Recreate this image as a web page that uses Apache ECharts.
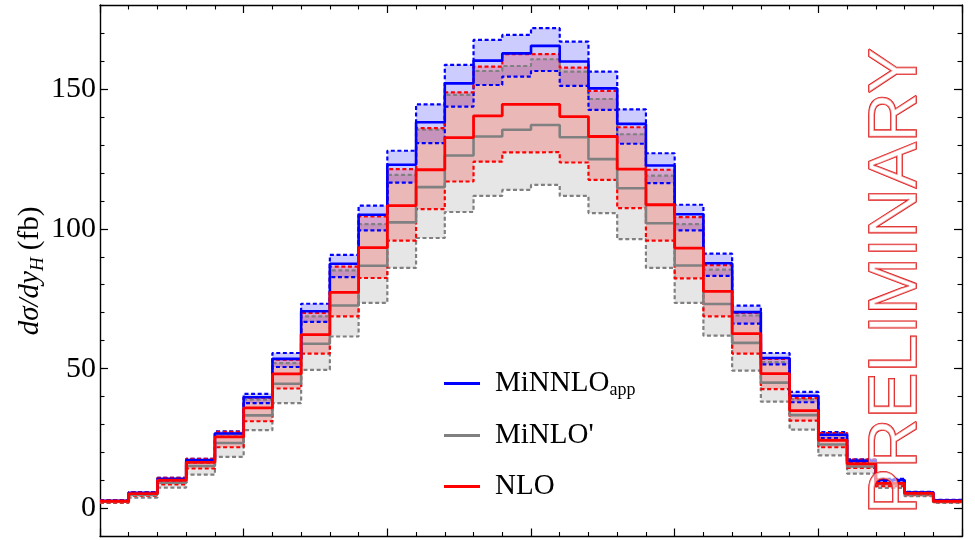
<!DOCTYPE html>
<html>
<head>
<meta charset="utf-8">
<script src="https://cdn.jsdelivr.net/npm/echarts@6/dist/echarts.min.js"></script>
<style>
  html, body { margin: 0; padding: 0; background: #fff; }
  #chart { width: 975px; height: 540px; }
</style>
</head>
<body>
<div id="chart"></div>
<script>
// Rapidity bins of the Higgs boson, y_H in [-3, 3], width 0.2
const binEdges = [-3.0, -2.8, -2.6, -2.4, -2.2, -2.0, -1.8, -1.6, -1.4, -1.2, -1.0,
                  -0.8, -0.6, -0.4, -0.2, 0.0, 0.2, 0.4, 0.6, 0.8, 1.0,
                  1.2, 1.4, 1.6, 1.8, 2.0, 2.2, 2.4, 2.6, 2.8, 3.0];

// MiNNLO_app: central value and scale-variation envelope (fb)
const minnloCentral = [2.8, 5.6, 10.6, 17.3, 26.8, 39.8, 53.5, 70.5, 87.5, 105.0,
                       122.9, 138.1, 152.0, 160.1, 162.7, 165.4, 159.8, 150.2, 137.5, 122.6,
                       105.2, 87.7, 70.2, 53.8, 40.3, 26.4, 17.1, 10.2, 5.7, 2.9];
const minnloUp = [3.0, 5.9, 11.0, 17.8, 27.6, 41.0, 55.6, 73.2, 90.7, 108.3,
                  127.9, 144.5, 158.6, 167.5, 169.3, 171.7, 166.9, 156.2, 142.7, 127.0,
                  108.6, 91.1, 72.5, 55.6, 41.7, 27.3, 17.6, 10.6, 6.0, 3.1];
const minnloDown = [2.6, 5.2, 10.0, 16.5, 25.6, 37.7, 50.6, 66.7, 82.7, 99.4,
                    116.5, 130.6, 143.7, 151.4, 154.4, 156.4, 151.1, 142.5, 130.4, 116.3,
                    99.4, 83.2, 66.1, 51.5, 38.0, 25.2, 16.4, 9.7, 5.4, 2.7];

// MiNLO'
const minloCentral = [2.4, 4.9, 9.2, 15.2, 23.4, 33.3, 44.6, 58.9, 72.6, 86.8,
                      102.3, 114.9, 126.2, 133.0, 135.4, 137.1, 132.7, 124.9, 114.5, 102.0,
                      86.9, 73.1, 59.2, 45.0, 33.4, 22.9, 15.0, 8.8, 5.0, 2.4];
const minloUp = [2.8, 5.7, 10.7, 17.4, 26.8, 38.9, 52.0, 68.7, 85.1, 101.7,
                 119.3, 135.4, 147.9, 156.4, 158.2, 160.6, 156.2, 146.4, 133.8, 119.0,
                 101.7, 85.4, 69.0, 52.3, 39.0, 26.6, 17.2, 10.2, 5.8, 2.9];
const minloDown = [2.0, 3.9, 7.5, 12.1, 18.5, 28.0, 37.7, 49.6, 61.5, 73.5,
                   86.0, 96.7, 106.0, 111.8, 113.9, 115.7, 111.8, 105.6, 96.3, 86.0,
                   73.5, 61.8, 49.3, 38.2, 28.2, 19.0, 12.5, 7.4, 4.4, 2.0];

// NLO
const nloCentral = [2.6, 5.3, 10.1, 16.5, 25.6, 36.0, 48.1, 62.2, 77.3, 93.3,
                    108.3, 121.1, 132.6, 140.4, 144.5, 144.5, 140.1, 133.0, 121.3, 108.6,
                    93.1, 77.6, 62.5, 48.2, 35.0, 24.4, 16.0, 9.0, 5.4, 2.6];
const nloUp = [2.9, 5.8, 11.0, 17.8, 27.4, 39.6, 53.2, 69.9, 86.5, 104.4,
               121.3, 136.0, 148.8, 158.0, 162.4, 162.5, 157.6, 149.3, 136.3, 121.1,
               104.2, 87.0, 69.9, 53.5, 39.5, 27.0, 17.5, 10.2, 5.9, 3.0];
const nloDown = [2.2, 4.6, 8.6, 14.3, 21.9, 31.2, 42.9, 55.4, 68.7, 82.4,
                 95.8, 107.0, 116.9, 124.0, 127.3, 127.4, 123.7, 117.5, 107.4, 95.8,
                 82.3, 68.7, 55.4, 42.7, 31.4, 21.9, 14.5, 8.0, 4.8, 2.3];

const yMajorTicks = [0, 50, 100, 150];

const BLUE = '#0000ff', GRAY = '#808080', RED = '#ff0000';
const SERIF = '"Liberation Serif", "DejaVu Serif", serif';

// histogram step line: one point per left bin edge plus the closing right edge
function stepPoints(vals) {
  return binEdges.map((x, i) => [x, vals[Math.min(i, vals.length - 1)]]);
}

function stepLine(name, vals, color, width, dashed, z) {
  return {
    type: 'line', name, step: 'end', data: stepPoints(vals),
    symbol: 'none', silent: true, z,
    itemStyle: { color },
    lineStyle: { color, width, type: dashed ? [4, 2.6] : 'solid' }
  };
}

// filled envelope drawn as one step-shaped polygon through the cartesian scales
function band(name, lo, hi, fill, z) {
  return {
    type: 'custom', name, z, silent: true, clip: true,
    data: [[0, 0]],
    renderItem(params, api) {
      const pts = [];
      for (let i = 0; i < hi.length; i++) {
        pts.push(api.coord([binEdges[i], hi[i]]));
        pts.push(api.coord([binEdges[i + 1], hi[i]]));
      }
      for (let i = lo.length - 1; i >= 0; i--) {
        pts.push(api.coord([binEdges[i + 1], lo[i]]));
        pts.push(api.coord([binEdges[i], lo[i]]));
      }
      return { type: 'polygon', shape: { points: pts }, style: { fill } };
    }
  };
}

const spine = { show: true, onZero: false, lineStyle: { color: '#000', width: 1.4 } };

function xAx(position) {
  return {
    type: 'value', position, min: -3, max: 3, interval: 1,
    axisLine: spine,
    axisTick: { inside: true, length: 8, lineStyle: { color: '#000', width: 1.2 } },
    minorTick: { show: true, splitNumber: 5, length: 4.5, lineStyle: { color: '#000', width: 1.1 } },
    axisLabel: { show: false },
    splitLine: { show: false }, minorSplitLine: { show: false }
  };
}

function yAxMinor(position, labels) {
  return {
    type: 'value', position, min: -10, max: 180, interval: 10,
    axisLine: spine,
    axisTick: { inside: true, length: 4.5, lineStyle: { color: '#000', width: 1.1 } },
    axisLabel: labels ? {
      show: true, margin: 4, color: '#000', fontFamily: SERIF, fontSize: 30,
      formatter: v => (yMajorTicks.indexOf(v) >= 0 ? String(v) : '')
    } : { show: false },
    splitLine: { show: false }
  };
}

function yAxMajor(position) {
  return {
    type: 'value', position, min: -10, max: 180,
    axisLine: { show: false, onZero: false },
    axisTick: { show: true, inside: true, length: 8, customValues: yMajorTicks,
                lineStyle: { color: '#000', width: 1.2 } },
    axisLabel: { show: false },
    splitLine: { show: false }
  };
}

const chart = echarts.init(document.getElementById('chart'), null, { renderer: 'canvas' });

chart.setOption({
  animation: false,
  backgroundColor: '#fff',
  grid: { left: 100, right: 13, top: 5, bottom: 3.5, containLabel: false },
  xAxis: [xAx('bottom'), xAx('top')],
  yAxis: [yAxMinor('left', true), yAxMajor('left'), yAxMinor('right', false), yAxMajor('right')],
  legend: {
    data: ['MiNNLOapp', "MiNLO'", 'NLO'],
    orient: 'vertical', left: 439, top: 364,
    icon: 'rect', itemWidth: 36, itemHeight: 3, itemGap: 22,
    selectedMode: false,
    formatter: name => (name === 'MiNNLOapp' ? '{m|MiNNLO}{s|app}' : '{m|' + name + '}'),
    textStyle: {
      color: '#000', fontFamily: SERIF, fontSize: 29,
      rich: {
        m: { fontFamily: SERIF, fontSize: 29, lineHeight: 31, color: '#000', padding: [0, 0, 0, 10] },
        s: { fontFamily: SERIF, fontSize: 18, lineHeight: 20, color: '#000', verticalAlign: 'bottom' }
      }
    }
  },
  graphic: [
    {
      type: 'text', x: 30, y: 271, rotation: Math.PI / 2, silent: true,
      style: {
        text: '{i|d\u03c3/dy}{h|H}{r| (fb)}',
        textAlign: 'center', textVerticalAlign: 'middle',
        rich: {
          i: { fontFamily: SERIF, fontStyle: 'italic', fontSize: 29, lineHeight: 34, fill: '#000' },
          h: { fontFamily: SERIF, fontStyle: 'italic', fontSize: 19, lineHeight: 23, fill: '#000', verticalAlign: 'bottom' },
          r: { fontFamily: SERIF, fontSize: 29, lineHeight: 34, fill: '#000' }
        }
      }
    },
    {
      type: 'text', x: 897, y: 281, rotation: Math.PI / 2, silent: true, z: 100,
      style: {
        text: 'PRELIMINARY',
        font: '69px "Liberation Sans", Arial, sans-serif',
        textAlign: 'center', textVerticalAlign: 'middle',
        fill: 'rgba(255,255,255,0.55)', stroke: '#dd1111', lineWidth: 1.6, opacity: 1
      }
    }
  ],
  series: [
    band('MiNLO band', minloDown, minloUp, 'rgba(128,128,128,0.2)', 1),
    band('MiNNLO band', minnloDown, minnloUp, 'rgba(0,0,255,0.2)', 2),
    band('NLO band', nloDown, nloUp, 'rgba(255,0,0,0.2)', 3),

    stepLine('MiNLO up', minloUp, GRAY, 2.2, true, 4),
    stepLine('MiNLO down', minloDown, GRAY, 2.2, true, 4),
    stepLine('MiNNLO up', minnloUp, BLUE, 2.2, true, 5),
    stepLine('MiNNLO down', minnloDown, BLUE, 2.2, true, 5),
    stepLine('NLO up', nloUp, RED, 2.2, true, 6),
    stepLine('NLO down', nloDown, RED, 2.2, true, 6),

    stepLine("MiNLO'", minloCentral, GRAY, 2.6, false, 7),
    stepLine('MiNNLOapp', minnloCentral, BLUE, 2.6, false, 8),
    stepLine('NLO', nloCentral, RED, 2.8, false, 9)
  ]
});
</script>
</body>
</html>
